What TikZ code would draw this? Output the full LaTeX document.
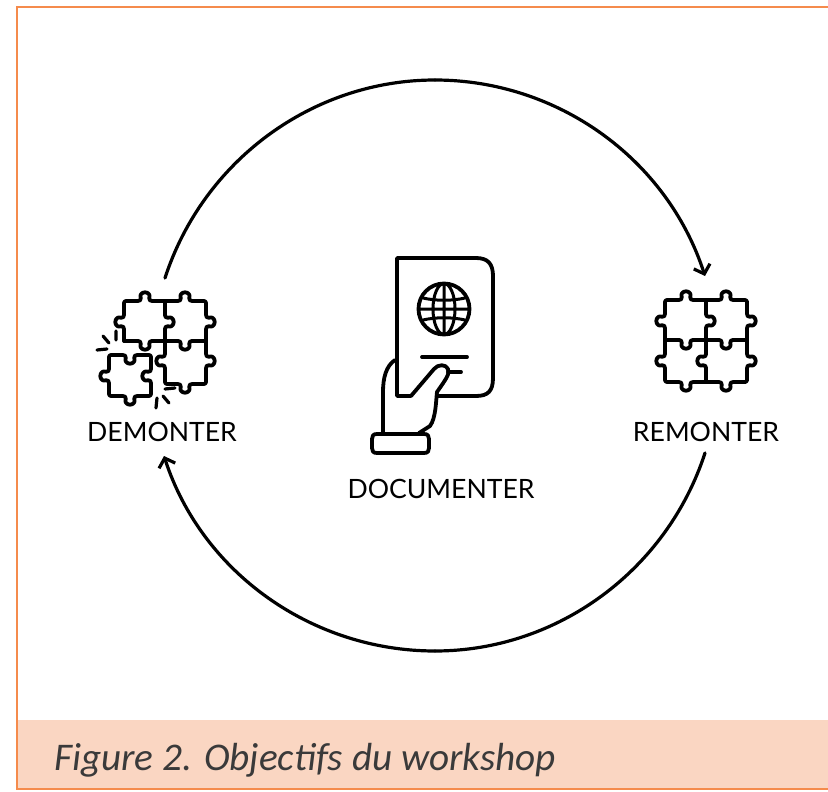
\documentclass[tikz,border=0pt]{standalone}
\usepackage{fontspec}
\setmainfont{Lato}
\newfontfamily\capfont[Ligatures=Common]{Carlito}
\usetikzlibrary{arrows.meta}
\definecolor{orangeb}{HTML}{F58B4C}
\definecolor{band}{HTML}{FAD6C2}
\definecolor{captxt}{HTML}{3A3A3A}
\tikzset{
  icon/.style={line width=3.8pt,line cap=round,line join=round,black},
  flow/.style={line width=3.2pt,line cap=round,black,-{Straight Barb[length=8pt,width=17pt,line width=3.2pt]}},
  lab/.style={font=\fontsize{26.6}{30}\selectfont,text=black,inner sep=0pt},
  tab/.pic={\draw[icon] (-7,0) .. controls (-5,0) and (-4.2,-1) .. (-4.2,-3) .. controls (-5.6,-5.5) and (-3.6,-8.7) .. (0,-8.7) .. controls (3.6,-8.7) and (5.6,-5.5) .. (4.2,-3) .. controls (4.2,-1) and (5,0) .. (7,0);}
}
\newcommand{\tabU}[2]{\pic at (#1,#2) {tab};}
\newcommand{\tabD}[2]{\pic[rotate=180] at (#1,#2) {tab};}
\newcommand{\tabL}[2]{\pic[rotate=90] at (#1,#2) {tab};}
\newcommand{\tabR}[2]{\pic[rotate=-90] at (#1,#2) {tab};}
\newcommand{\tophalf}{%
  \draw[icon,rounded corners=2pt] (665,340)--(665,328) (665,314)--(665,300)--(679,300) (693,300)--(719,300) (733,300)--(747,300)--(747,314) (747,328)--(747,340);
  \draw[icon] (665,340)--(679,340) (693,340)--(719,340) (733,340)--(747,340) (706,300)--(706,314) (706,328)--(706,340);
  \tabL{665}{321}\tabU{686}{300}\tabU{726}{300}\tabR{747}{321}\tabD{686}{340}\tabD{726}{340}\tabR{706}{321}
}
\begin{document}
\begin{tikzpicture}[x=1pt,y=-1pt]
\useasboundingbox (0,0) rectangle (828,792);
% frame
\fill[band] (17,720) rectangle (828,789);
\draw[orangeb,line width=2.8pt] (828,7)--(17,7)--(17,789)--(828,789);
\node[anchor=base west,inner sep=0pt,text=captxt,font=\capfont\itshape\fontsize{39.2}{44}\selectfont] (cap) at (54,770) {Figure 2. Objectifs du workshop};
% labels
\node[lab] (dem) at (162,432) {DEMONTER};
\node[lab] (rem) at (706,432) {REMONTER};
\node[lab] (doc) at (441,489) {DOCUMENTER};
% cycle
\coordinate (a1) at (165,278);
\coordinate (t) at (435,80);
\coordinate (b1) at (705,276);
\coordinate (a2) at (705,453);
\coordinate (u) at (435,651);
\coordinate (b2) at (164,456);
\draw[line width=3.2pt,line cap=round] (a1) to[out=72,in=180,looseness=.94] (t);
\draw[flow] (t) to[out=0,in=108,looseness=.94] (b1);
\draw[line width=3.2pt,line cap=round] (a2) to[out=-108,in=0,looseness=.94] (u);
\draw[flow] (u) to[out=180,in=-72,looseness=.94] (b2);
% remonter icon
\tophalf
\draw[icon,rounded corners=2pt] (665,340)--(665,354) (665,368)--(665,382)--(679,382) (693,382)--(719,382) (733,382)--(747,382)--(747,368) (747,354)--(747,340);
\draw[icon] (706,340)--(706,354) (706,368)--(706,382);
\tabL{665}{361}\tabD{686}{382}\tabD{726}{382}\tabR{747}{361}\tabL{706}{361}
% demonter icon
\begin{scope}[shift={(-541,1)}]
\tophalf
\end{scope}
\draw[icon,rounded corners=2pt] (165,341)--(165,354) (165,368)--(165,384)--(178,384) (192,384)--(206,384)--(206,368) (206,354)--(206,341);
\tabL{165}{361}\tabD{185}{384}\tabR{206}{361}
\draw[icon,rounded corners=2pt] (109,369)--(109,355)--(123,355) (137,355)--(151,355)--(151,369) (151,383)--(151,396)--(137,396) (123,396)--(109,396)--(109,383);
\tabD{130}{355}\tabL{151}{376}\tabD{130}{396}\tabL{109}{376}
\draw[icon,line width=3.2pt] (116,331)--(116,340) (103,336)--(109,343) (97,350)--(107,349) (165,389)--(175,388) (163,396)--(169,403) (157,398)--(156,408);
% passport
\draw[icon] (411,396)--(397,396)--(397,258)--(476,258) .. controls (488,258) and (493,264) .. (493,276)--(493,378) .. controls (493,391) and (488,396) .. (476,396)--(437,396);
\draw[icon] (444,309) circle[radius=25.5];
\draw[icon,line width=3pt] (444,309) ellipse[x radius=11,y radius=25.5] (444,284)--(444,334) (419,309)--(469,309);
\draw[icon,line width=3pt] (423,298) .. controls (436,301) and (452,301) .. (465,298) (423,320) .. controls (436,317) and (452,317) .. (465,320);
\draw[icon] (422,357)--(467,357) (448,372)--(461,372);
% hand
\draw[icon] (411,396) -- (434,369) .. controls (438,364) and (446,364) .. (448,369) .. controls (450,374) and (446,379) .. (437,392) .. controls (436,400) and (436,418) .. (430,426) -- (419,433);
\draw[icon] (395,360) .. controls (386,366) and (383,378) .. (383,392) -- (383,433);
\draw[icon] (377,434) -- (424,434) .. controls (428,434) and (429,436) .. (429,439) -- (429,448) .. controls (429,451) and (428,453) .. (424,453) -- (377,453) .. controls (373,453) and (372,451) .. (372,448) -- (372,439) .. controls (372,436) and (373,434) .. (377,434) -- cycle;
\end{tikzpicture}
\end{document}
